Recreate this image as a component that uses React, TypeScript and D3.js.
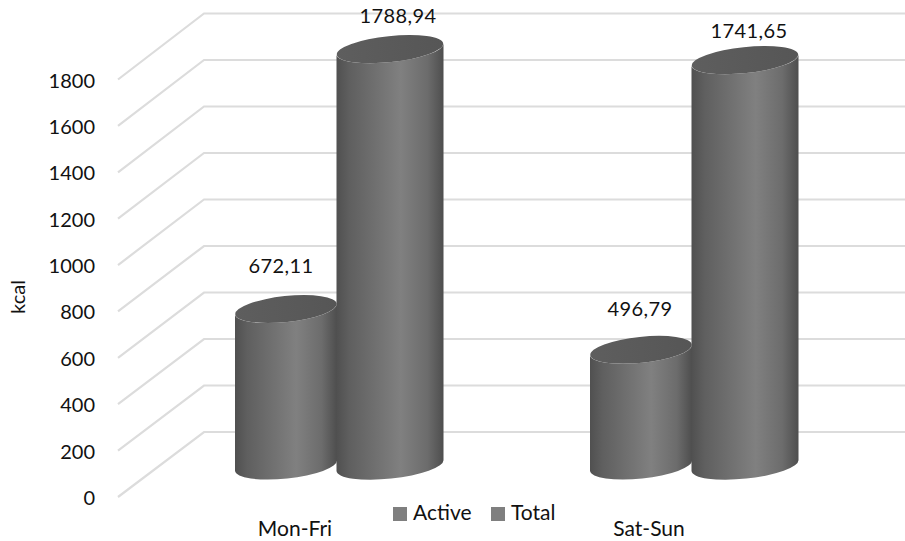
import React from "react";
import * as d3 from "d3";

const categories = ["Mon-Fri", "Sat-Sun"];
const seriesNames = ["Active", "Total"];
const activeValues = [672.11, 496.79];
const totalValues = [1788.94, 1741.65];
const activeLabels = ["672,11", "496,79"];
const totalLabels = ["1788,94", "1741,65"];
const ticks = [0, 200, 400, 600, 800, 1000, 1200, 1400, 1600, 1800];

const FONT = "Lato, Carlito, 'Open Sans', sans-serif";
const front = d3.scaleLinear().domain([0, 1800]).range([497, 79.5]);
const back = d3.scaleLinear().domain([0, 1800]).range([432, 13.5]);
const barY = d3.scaleLinear().domain([0, 1800]).range([465.5, 46.5]);
const groupX = d3.scalePoint<string>().domain(categories).range([235, 590]);

const RY = 13;
const TILT = -6;
const TEXT = "#111";

function Cylinder({ x0, x1, value }: { x0: number; x1: number; value: number }) {
  const cx = (x0 + x1) / 2;
  const rx = (x1 - x0) / 2;
  const top = barY(value);
  const bot = barY(0);
  const dy = Math.sin((TILT * Math.PI) / 180) * rx;
  const body = `M${x0},${top - dy} L${x0},${bot - dy} A${rx},${RY} ${TILT} 0 0 ${x1},${bot + dy} L${x1},${top + dy} A${rx},${RY} ${TILT} 0 1 ${x0},${top - dy} Z`;
  return (
    <g>
      <path d={body} fill="url(#cyl)" />
      <ellipse cx={cx} cy={top} rx={rx} ry={RY} fill="url(#cap)" transform={`rotate(${TILT} ${cx} ${top})`} />
    </g>
  );
}

export default function App() {
  const labelOffsetA = [46, 50];
  const labelOffsetT = [163, 159];
  const labelGapA = [36, 34];
  const labelGapT = [26, 22];
  const catOffset = [60, 59];
  return (
    <svg width={905} height={541} style={{ position: "absolute", left: 0, top: 0, background: "#fff" }} fontFamily={FONT}>
      <defs>
        <linearGradient id="cyl" x1="0" x2="1" y1="0" y2="0">
          <stop offset="0" stopColor="#505050" />
          <stop offset="0.12" stopColor="#5f5f5f" />
          <stop offset="0.6" stopColor="#808080" />
          <stop offset="0.85" stopColor="#6c6c6c" />
          <stop offset="1" stopColor="#4e4e4e" />
        </linearGradient>
        <linearGradient id="cap" x1="0" x2="1" y1="0" y2="0">
          <stop offset="0" stopColor="#5e5e5e" />
          <stop offset="1" stopColor="#565656" />
        </linearGradient>
      </defs>
      {ticks.map((t) => (
        <g key={t}>
          <polyline
            points={`118,${front(t)} 204,${back(t)} 905,${back(t)}`}
            fill="none"
            stroke="#dcdcdc"
            strokeWidth={2.2}
          />
          <text x={95} y={front(t) + 8} textAnchor="end" fontSize={20} fill={TEXT}>
            {t}
          </text>
        </g>
      ))}
      <text transform="translate(25,297) rotate(-90)" textAnchor="middle" fontSize={20} fill={TEXT}>
        kcal
      </text>
      {categories.map((c, i) => {
        const x = groupX(c)!;
        return (
          <g key={c}>
            <Cylinder x0={x} x1={x + 102} value={activeValues[i]} />
            <Cylinder x0={x + 101.5} x1={x + 208.5} value={totalValues[i]} />
            <text x={x + labelOffsetA[i]} y={barY(activeValues[i]) - labelGapA[i]} textAnchor="middle" fontSize={20} letterSpacing={0.4} fill={TEXT}>
              {activeLabels[i]}
            </text>
            <text x={x + labelOffsetT[i]} y={barY(totalValues[i]) - labelGapT[i]} textAnchor="middle" fontSize={20} letterSpacing={0.4} fill={TEXT}>
              {totalLabels[i]}
            </text>
            <text x={x + catOffset[i]} y={536} textAnchor="middle" fontSize={21} fill={TEXT}>
              {c}
            </text>
          </g>
        );
      })}
      {seriesNames.map((s, i) => {
        const x = [393, 491][i];
        return (
          <g key={s}>
            <rect x={x} y={507} width={14} height={14} fill="#7f7f7f" />
            <text x={x + 20} y={520} fontSize={21} fill={TEXT}>
              {s}
            </text>
          </g>
        );
      })}
    </svg>
  );
}
